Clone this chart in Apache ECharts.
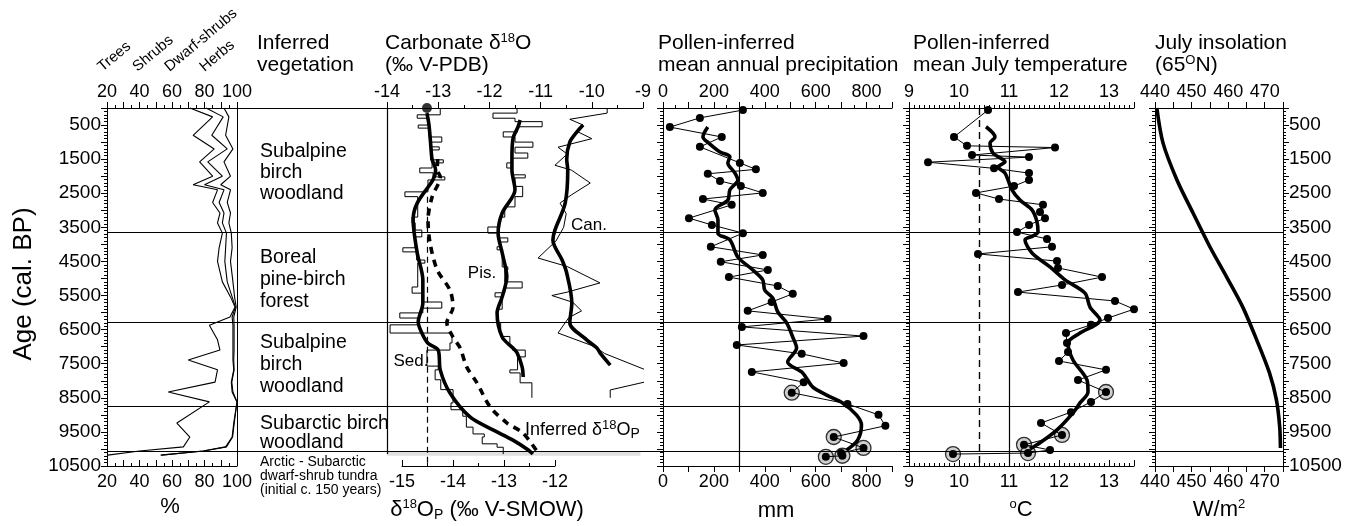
<!DOCTYPE html>
<html><head><meta charset="utf-8">
<script src="https://cdn.jsdelivr.net/npm/echarts/dist/echarts.min.js"></script>
<style>html,body{margin:0;padding:0;background:#fff}#c{width:1364px;height:526px}</style>
</head><body><div id="c"></div>
<script>
// ---------------- DATA ----------------
const zoneBoundaries = [3650, 6270, 8760, 10060];

// Pollen percentages (cumulative boundaries), age (cal. BP)
const vegAge        = [0,260,800,1200,1580,2000,2250,2400,2770,3080,3370,3670,4100,4500,5100,5540,5840,6130,6370,6800,7100,7390,7680,8040,8330,8620,9240,9650,9940,10060,10180];
const vegTrees      = [71,85,73,86,77,85,73,88,85,89.5,88,91,89,88,91,96,98.8,95.7,83,88,89.5,70,88,86.5,57.7,83,63,71,67,40,20.5];
const vegShrubs     = [81,91.5,84.5,94,82,91,80,92,89,92,91,93.5,93,92.5,94,97,99,97,97.5,97.5,97.5,97.5,98,96.5,97,100,98,97,93,79,53];
const vegDwarf      = [92,95,93,97.5,92,96,90,96,94,96,95,96.5,97,96,97.5,98.5,99.5,98,98.2,98.2,98.2,98,98.2,96.8,97.5,100,98.3,97.3,93.5,79.5,53.5];

// Carbonate d18O (per mil V-PDB)
const sedStepAge = [0,200,300,500,590,850,1000,1140,1230,1520,1610,1760,1900,2020,2110,2460,2600,3200,3370,3580,3780,4100,4220,4460,4550,5250,5430,5690,5870,6010,6160,6360,6600,6890,7100,7570,7680,7970,8260,8650,8850,9040,9360,9560,9650,9850,9950,10150];
const sedStepVal = [-12.96,-13.41,-13.2,-13.39,-13.18,-12.93,-13.15,-12.98,-13.15,-12.9,-13.12,-13.36,-13.1,-12.87,-13.2,-13.65,-13.4,-13.51,-13.45,-13.32,-13.45,-13.69,-13.42,-13.26,-13.4,-13.51,-13.3,-12.93,-13.3,-13.75,-13.4,-13.94,-12.73,-12.77,-13.22,-13.0,-13.06,-12.95,-12.71,-12.75,-12.52,-12.45,-12.32,-12.1,-12.14,-11.85,-11.73,-11.73];
const sedSmoothAge = [150,500,1000,1500,1820,2100,2790,3280,4250,5040,5720,6280,6600,6900,7100,7680,8360,9060,9440,9740,10030,10150];
const sedSmoothVal = [-13.22,-13.18,-13.15,-13.12,-13.05,-13.1,-13.41,-13.49,-13.41,-13.3,-13.3,-13.39,-13.32,-13.2,-13.0,-12.96,-12.77,-12.38,-11.93,-11.54,-11.24,-11.15];
const sedTopAge = [0];
const sedTopVal = [-13.22];

const pisStepAge = [0,150,300,400,550,700,850,1000,1150,1320,1470,1610,1760,1960,2050,2300,2600,2900,3200,3490,3670,3810,3930,4070,4160,4660,4750,5100,5280,5420,5540,5900,6300,6700,7000,7100,7300,7680,7770,8060,8500];
const pisStepVal = [-11.46,-11.93,-11.5,-10.97,-11.45,-11.73,-11.5,-11.15,-11.5,-11.25,-11.55,-11.66,-11.55,-11.3,-11.5,-11.35,-11.5,-11.7,-11.8,-12.03,-11.82,-11.64,-11.8,-11.85,-11.75,-11.64,-11.7,-11.36,-11.7,-11.89,-11.75,-11.85,-11.78,-11.6,-11.55,-11.3,-11.45,-11.6,-11.4,-11.17,-11.17];
const pisSmoothAge = [350,550,900,1500,1820,2400,3080,3670,4250,4950,5540,6010,6720,7040,7180,7600,7890];
const pisSmoothVal = [-11.4,-11.44,-11.54,-11.56,-11.56,-11.5,-11.75,-11.83,-11.75,-11.66,-11.75,-11.85,-11.75,-11.54,-11.46,-11.36,-11.34];

const canAge = [0,150,330,500,700,900,1150,1350,1680,1820,2200,2550,2790,3100,3500,3900,4400,4650,5130,5400,5500,5700,5950,6150,6600,7000,7200,7770,7970,8270,8500];
const canVal = [-9.7,-9.7,-10.43,-10.17,-10.27,-10.0,-10.66,-10.48,-10.72,-10.4,-10.03,-10.4,-10.62,-10.5,-10.55,-10.7,-11.05,-10.48,-9.84,-10.48,-10.78,-10.37,-10.2,-10.45,-10.66,-9.94,-9.75,-8.8,-8.77,-9.64,-9.64];
const canSmoothAge = [500,700,1000,1500,1820,2790,3580,3870,4460,4840,5720,6300,6800,7040,7180,7540];
const canSmoothVal = [-10.17,-10.29,-10.43,-10.49,-10.47,-10.52,-10.72,-10.76,-10.58,-10.49,-10.39,-10.43,-10.1,-9.9,-9.84,-9.64];

// Inferred d18O of precipitation (per mil V-SMOW)
const inferredAge = [1500,1820,2020,2610,3280,3960,4750,5340,5840,6300,6720,7040,7600,8060,8770,9240,9530,10120];
const inferredVal = [-14.3,-14.31,-14.25,-14.41,-14.49,-14.45,-14.31,-14.06,-14.0,-14.12,-14.0,-13.86,-13.73,-13.53,-13.27,-12.94,-12.63,-12.33];
const modernD18Op = -14.5;

// Pollen-inferred precipitation (mm)
const precipAge = [60,290,560,850,1140,1610,1800,1930,2140,2290,2490,2670,2840,3230,3430,3670,4070,4310,4510,4750,4960,5220,5450,5690,5950,6190,6420,6690,6950,7210,7480,7740,8040,8350,8680,9000,9320,9650,9970,10120,10200,10230];
const precipVal = [314,145,27,231,145,302,365,176,224,306,392,157,270,102,192,314,188,392,227,412,259,451,510,427,333,647,310,788,290,545,710,349,553,506,725,847,874,671,788,700,705,640];
const precipCircledAge = [8350,9650,9970,10200,10230];
const precipSmoothAge = [560,850,1030,1290,1430,1610,1900,2110,2400,2700,2990,3280,3670,3870,4370,4750,5040,5340,5570,5980,6300,6720,7040,7450,7770,8180,8420,8650,9000,9300,9740,10030];
const precipSmoothVal = [176,157,180,224,263,255,282,294,263,255,204,216,216,263,294,353,392,400,431,451,486,510,525,490,549,588,643,706,760,780,765,722];
const modernPrecip = 300;

// Pollen-inferred July temperature (deg C)
const tempAge = [60,850,1110,1160,1380,1440,1590,1770,1910,2110,2290,2490,2670,2840,3050,3230,3430,3640,3840,4070,4280,4490,4690,4960,5190,5400,5660,5900,6160,6360,6600,6890,7160,7420,7680,7980,8330,8620,8920,9240,9590,9880,10030,10120,10150];
const tempVal = [10.58,9.9,10.16,11.92,10.26,11.4,9.38,10.7,11.4,11.4,11.1,10.34,10.8,11.68,11.62,11.72,11.4,11.16,11.76,11.86,10.38,11.96,11.98,12.86,12.06,11.18,13.12,13.5,12.98,12.64,12.14,12.16,12.18,12.0,12.94,12.38,12.94,12.64,12.24,11.64,12.06,11.3,11.82,11.38,9.88];
const tempCircledAge = [8330,9590,9880,10120,10150];
const tempSmoothAge = [550,850,1030,1320,1580,1730,1910,2400,2700,2990,3340,3640,3750,3870,4250,4660,5040,5430,5840,6220,6600,6890,7390,7980,8330,8650,8940,9440,9820,10000];
const tempSmoothVal = [10.54,10.72,10.62,10.68,10.92,10.78,10.92,11.06,11.22,11.46,11.56,11.58,11.48,11.32,11.46,11.82,12.12,12.52,12.62,12.82,12.42,12.18,12.28,12.56,12.58,12.42,12.28,11.96,11.62,11.42];
const modernTemp = 11;
const tempRefDashed = 10.4;

// July insolation 65N (W/m2)
const insolAge = [0,1030,2110,3080,4070,4960,5840,6800,7770,8560,9350,9970];
const insolVal = [440.5,442.2,446,450.4,455,459.6,464,467.8,471.3,473.2,474.1,474.3];

// ---------------- HELPERS ----------------
const FONT = '"Liberation Sans", Arial, Helvetica, sans-serif';
const BLK = '#000';
const pairs = (vals, ages) => vals.map((v, i) => [v, ages[i]]);
function stepPairs(ages, vals) {
  const out = [];
  for (let i = 0; i < ages.length; i++) {
    out.push([vals[i], ages[i]]);
    if (i < ages.length - 1) out.push([vals[i], ages[i + 1]]);
  }
  return out;
}
function pickCircled(ages, vals, circled) {
  return ages.map((a, i) => [vals[i], a]).filter(p => circled.indexOf(p[1]) >= 0);
}

const T = 108, H = 358;
const AL = {color: BLK, width: 1};

function xAx(gridIndex, position, min, max, interval, minorSplit, fmt, inside) {
  return {
    type: 'value', gridIndex, position, min, max, interval,
    axisLine: {show: true, onZero: false, lineStyle: AL},
    axisTick: {show: true, inside: !!inside, length: 6, lineStyle: AL},
    minorTick: {show: minorSplit > 1, splitNumber: minorSplit || 2, length: 3, lineStyle: AL},
    axisLabel: {show: !!fmt, formatter: fmt || '', fontSize: 18, color: BLK, fontFamily: FONT, margin: 7},
    splitLine: {show: false}, minorSplitLine: {show: false}
  };
}
function yAge(gridIndex, position, labels) {
  return {
    type: 'value', gridIndex, position, inverse: true, min: 0, max: 10500, interval: 500,
    axisLine: {show: true, onZero: false, lineStyle: AL},
    axisTick: {show: true, length: 6, lineStyle: AL},
    minorTick: {show: true, splitNumber: 5, length: 3, lineStyle: AL},
    axisLabel: {show: labels, formatter: v => (v % 1000 === 500 ? String(v) : ''), fontSize: 19, color: BLK, fontFamily: FONT, margin: 6},
    splitLine: {show: false}
  };
}
function yHidden(gridIndex) {
  return {type: 'value', gridIndex, inverse: true, min: 0, max: 10500, show: false, splitLine: {show: false}};
}

const xAxes = [
  xAx(0, 'top', 20, 100, 10, 2, v => (v % 20 === 0 ? String(v) : '')),           //0
  xAx(0, 'bottom', 20, 100, 10, 2, v => (v % 20 === 0 ? String(v) : ''), true),  //1
  Object.assign(xAx(1, 'top', 0, 1, 1, 0, null), {axisTick: {show: false}}),      //2
  xAx(2, 'top', -14, -9, 1, 2, v => String(v)),                                    //3
  xAx(3, 'bottom', -15, -12, 1, 2, v => String(v), true),                          //4
  xAx(4, 'top', 0, 900, 100, 2, v => (v % 200 === 0 && v < 900 ? String(v) : '')),//5
  xAx(4, 'bottom', 0, 900, 100, 0, v => (v % 200 === 0 && v < 900 ? String(v) : '')),//6
  xAx(5, 'top', 9, 13.5, 1, 10, v => (Number.isInteger(v) ? String(v) : '')),      //7
  xAx(5, 'bottom', 9, 13.5, 1, 10, v => (Number.isInteger(v) ? String(v) : ''), true),//8
  xAx(6, 'top', 440, 475, 5, 0, v => (v % 10 === 0 && v < 475 ? String(v) : '')),//9
  xAx(6, 'bottom', 440, 475, 5, 0, v => (v % 10 === 0 && v < 475 ? String(v) : '')),//10
  {type: 'value', gridIndex: 7, min: 0, max: 1, show: false, splitLine: {show: false}} //11
];
const yAxes = [
  yAge(0, 'left', true),   //0
  yHidden(1),              //1
  yHidden(2),              //2
  yHidden(3),              //3
  yAge(4, 'left', false),  //4
  yAge(5, 'left', false),  //5
  yAge(6, 'left', false),  //6
  yAge(6, 'right', true),  //7
  yHidden(7)               //8
];

const thin = {color: BLK, width: 1};
const thick = {color: BLK, width: 3.6};
function line(xi, yi, data, ls, extra) {
  return Object.assign({type: 'line', xAxisIndex: xi, yAxisIndex: yi, data, symbol: 'none', lineStyle: ls, clip: false, silent: true, z: 3}, extra || {});
}
const mlBase = {silent: true, symbol: 'none', label: {show: false}, animation: false};

const series = [
  // vegetation
  line(0, 0, pairs(vegTrees, vegAge), {color: BLK, width: 1.1}, {
    markLine: Object.assign({}, mlBase, {lineStyle: {color: BLK, width: 1, type: 'solid'}, data: [{xAxis: 100}]})
  }),
  line(0, 0, pairs(vegShrubs, vegAge), {color: BLK, width: 1.1}),
  line(0, 0, pairs(vegDwarf, vegAge), {color: BLK, width: 1.1}),
  // carbonate
  line(3, 2, stepPairs(sedStepAge, sedStepVal), thin, {
    markLine: Object.assign({}, mlBase, {lineStyle: {color: BLK, width: 1.2, type: 'solid'},
      data: [[{coord: [-14, 0]}, {coord: [-14, 10150]}]]}),
    markArea: {silent: true, itemStyle: {color: '#e0e0e0'}, data: [[{coord: [-14, zoneBoundaries[3]]}, {coord: [-9.05, 10200]}]]}
  }),
  line(3, 2, pairs(sedSmoothVal, sedSmoothAge), thick, {smooth: 0.3}),
  line(3, 2, stepPairs(pisStepAge, pisStepVal), thin),
  line(3, 2, pairs(pisSmoothVal, pisSmoothAge), thick, {smooth: 0.3}),
  line(3, 2, pairs(canVal, canAge), thin),
  line(3, 2, pairs(canSmoothVal, canSmoothAge), thick, {smooth: 0.3}),
  {type: 'scatter', xAxisIndex: 3, yAxisIndex: 2, data: pairs(sedTopVal, sedTopAge), symbolSize: 10, itemStyle: {color: BLK}, silent: true, z: 4},
  // inferred d18Op
  line(4, 3, pairs(inferredVal, inferredAge), {color: BLK, width: 3.6, type: [7, 6]}, {smooth: 0.3,
    markLine: Object.assign({}, mlBase, {lineStyle: {color: BLK, width: 1.2, type: [6, 4]},
      data: [[{coord: [modernD18Op, 2600]}, {coord: [modernD18Op, 10500]}]]})}),
  // precipitation
  {type: 'scatter', xAxisIndex: 5, yAxisIndex: 4, data: pickCircled(precipAge, precipVal, precipCircledAge), symbolSize: 15,
    itemStyle: {color: '#c4c4c4', borderColor: BLK, borderWidth: 1.3}, silent: true, z: 2},
  line(5, 4, pairs(precipVal, precipAge), {color: BLK, width: 1}, {symbol: 'circle', symbolSize: 8, showSymbol: true, itemStyle: {color: BLK},
    markLine: Object.assign({}, mlBase, {lineStyle: {color: BLK, width: 1.2, type: 'solid'}, data: [{xAxis: modernPrecip}]})}),
  line(5, 4, pairs(precipSmoothVal, precipSmoothAge), thick, {smooth: 0.3}),
  // temperature
  {type: 'scatter', xAxisIndex: 7, yAxisIndex: 5, data: pickCircled(tempAge, tempVal, tempCircledAge), symbolSize: 15,
    itemStyle: {color: '#c4c4c4', borderColor: BLK, borderWidth: 1.3}, silent: true, z: 2},
  line(7, 5, pairs(tempVal, tempAge), {color: BLK, width: 1}, {symbol: 'circle', symbolSize: 8, showSymbol: true, itemStyle: {color: BLK},
    markLine: Object.assign({}, mlBase, {data: [
      {xAxis: modernTemp, lineStyle: {color: BLK, width: 1.2, type: 'solid'}},
      {xAxis: tempRefDashed, lineStyle: {color: BLK, width: 1.4, type: [7, 5]}}
    ]})}),
  line(7, 5, pairs(tempSmoothVal, tempSmoothAge), thick, {smooth: 0.3}),
  // insolation
  line(9, 6, pairs(insolVal, insolAge), {color: BLK, width: 3.6}, {smooth: 0.3}),
  // zone boundaries across all panels
  line(11, 8, [], thin, {markLine: Object.assign({}, mlBase, {lineStyle: {color: BLK, width: 1.1, type: 'solid'},
    data: zoneBoundaries.map(a => ({yAxis: a}))})})
];

// ---------------- TEXT ----------------
const rich = {
  sup: {fontSize: 13, fontFamily: FONT, lineHeight: 13, verticalAlign: 'top', fill: BLK},
  sub: {fontSize: 14, fontFamily: FONT, lineHeight: 14, verticalAlign: 'bottom', fill: BLK}
};
function txt(x, y, text, size, opts) {
  opts = opts || {};
  return {
    type: 'text', x, y, rotation: opts.rotation || 0, silent: true, z: 10,
    style: {text, fontSize: size, fontFamily: FONT, fill: BLK, lineHeight: opts.lh || Math.round(size * 1.05),
      align: opts.align || 'left', verticalAlign: opts.va || 'top', rich}
  };
}
const R = Math.PI / 180;
const graphics = [
  txt(105, 75, 'Trees', 15, {rotation: 40 * R, va: 'bottom'}),
  txt(140, 75, 'Shrubs', 15, {rotation: 40 * R, va: 'bottom'}),
  txt(172, 75, 'Dwarf-shrubs', 15, {rotation: 40 * R, va: 'bottom'}),
  txt(207, 75, 'Herbs', 15, {rotation: 40 * R, va: 'bottom'}),
  txt(257, 32, 'Inferred\nvegetation', 21, {lh: 22}),
  txt(385, 32, 'Carbonate δ{sup|18}O\n(‰ V-PDB)', 21, {lh: 22}),
  txt(658, 32, 'Pollen-inferred\nmean annual precipitation', 21, {lh: 22}),
  txt(913, 32, 'Pollen-inferred\nmean July temperature', 21, {lh: 22}),
  txt(1155, 32, 'July insolation\n(65{sup|O}N)', 21, {lh: 22}),
  txt(260, 141, 'Subalpine\nbirch\nwoodland', 19.5, {lh: 21}),
  txt(260, 247, 'Boreal\npine-birch\nforest', 19.5, {lh: 22}),
  txt(260, 332, 'Subalpine\nbirch\nwoodland', 19.5, {lh: 22}),
  txt(260, 414, 'Subarctic birch\nwoodland', 19.5, {lh: 19}),
  txt(260, 455, 'Arctic - Subarctic\ndwarf-shrub tundra\n(initial c. 150 years)', 14, {lh: 14}),
  txt(411, 361, 'Sed.', 17, {align: 'center', va: 'middle'}),
  txt(482, 273, 'Pis.', 17, {align: 'center', va: 'middle'}),
  txt(589, 225, 'Can.', 17, {align: 'center', va: 'middle'}),
  txt(525, 430, 'Inferred δ{sup|18}O{sub|P}', 18, {va: 'middle', lh: 22}),
  txt(24, 284, 'Age (cal. BP)', 26, {rotation: 90 * R, align: 'center', va: 'middle'}),
  txt(170, 507, '%', 22, {align: 'center', va: 'middle'}),
  txt(487, 510, 'δ{sup|18}O{sub|P} (‰ V-SMOW)', 22, {align: 'center', va: 'middle', lh: 24}),
  txt(776, 511, 'mm', 22, {align: 'center', va: 'middle'}),
  txt(1021, 510, '{sup|o}C', 22, {align: 'center', va: 'middle', lh: 24}),
  txt(1219, 510, 'W/m{sup|2}', 22, {align: 'center', va: 'middle', lh: 24})
];

const chart = echarts.init(document.getElementById('c'), null, {renderer: 'canvas'});
chart.setOption({
  animation: false,
  backgroundColor: '#fff',
  textStyle: {fontFamily: FONT, color: BLK},
  grid: [
    {left: 107, top: T, width: 130, height: H},
    {left: 237, top: T, width: 150, height: H},
    {left: 387, top: T, width: 256, height: H},
    {left: 402, top: T, width: 153, height: H},
    {left: 663, top: T, width: 229, height: H},
    {left: 909, top: T, width: 225, height: H},
    {left: 1155, top: T, width: 128, height: H},
    {left: 107, top: T, width: 1176, height: H}
  ],
  xAxis: xAxes,
  yAxis: yAxes,
  series,
  graphic: graphics
});
</script></body></html>
